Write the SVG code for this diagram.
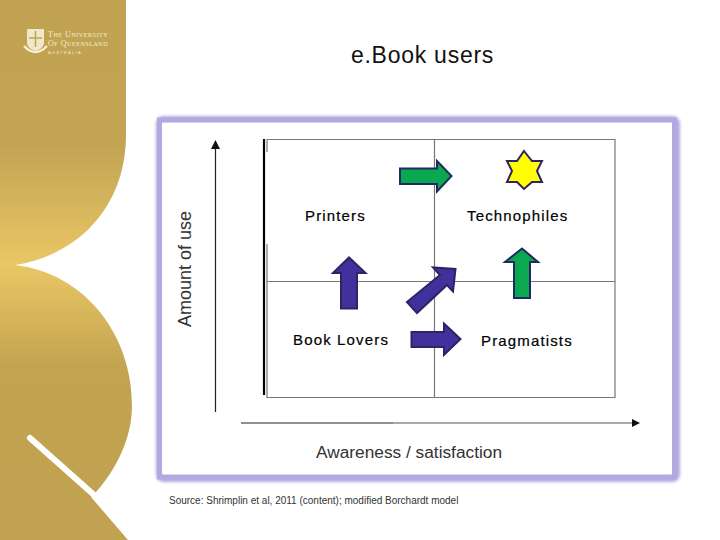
<svg xmlns="http://www.w3.org/2000/svg" width="720" height="540" viewBox="0 0 720 540">
<style>
text{font-family:"Liberation Sans",Arial,sans-serif}
.lab{font-size:15px;fill:#000;letter-spacing:1.15px;stroke:#000;stroke-width:.2}
.axis{fill:#333}
.grid{stroke:#777;stroke-width:1.2;fill:none}
.ax{stroke:#222;stroke-width:1.2;fill:none}
.p{fill:#41319c;stroke:#2c2464;stroke-width:2}
.g{fill:#0aa850;stroke:#1f2a60;stroke-width:2}
.logo{fill:#f4efd8}
.ser{font-family:"Liberation Serif",serif;fill:#f4efd8;font-variant:small-caps;font-size:8px;letter-spacing:.55px}
</style>
<defs>
<linearGradient id="gold" x1="0" y1="0" x2="0" y2="1">
<stop offset="0" stop-color="#c0a250"/><stop offset=".27" stop-color="#c2a453"/><stop offset=".49" stop-color="#eac765"/><stop offset=".68" stop-color="#c2a350"/><stop offset="1" stop-color="#c0a250"/>
</linearGradient>
<filter id="blur" x="-5%" y="-5%" width="110%" height="110%"><feGaussianBlur stdDeviation="1.6"/></filter>
</defs>
<rect width="720" height="540" fill="#fff"/>
<path id="panel" fill="url(#gold)" d="M0 0H126V135C126 205 80 255 15 265C85 273 132 335 132 405C132 440 115 470 97 491L91 497L128 540H0Z"/>
<path id="stripe" d="M30 438L93 494" fill="none" stroke="#fff" stroke-width="6" stroke-linecap="round"/>
<g id="logo">
<path class="logo" d="M27 29H44V43Q44 48 35.500 51Q27 48 27 43Z" opacity=".9"/>
<path d="M35.500 31V47M29 38H42" stroke="#c0a250" stroke-width="1.500" fill="none"/>
<path d="M24 46Q35.500 58 47 46" fill="none" stroke="#f4efd8" stroke-width="2.500"/>
<text class="ser" x="48" y="37">The University</text>
<text class="ser" x="48" y="46">Of Queensland</text>
<text x="48" y="53.500" font-size="4" letter-spacing="1.300" fill="#f4efd8">AUSTRALIA</text>
</g>
<text id="title" x="422.500" y="63" text-anchor="middle" font-size="23" letter-spacing=".75" fill="#111">e.Book users</text>
<g id="frame">
<rect x="158.500" y="118.500" width="519" height="361" rx="5" fill="none" stroke="#b3a8e0" stroke-width="5" filter="url(#blur)"/>
<rect x="159.500" y="120" width="515" height="357" fill="none" stroke="#b3a8e0" stroke-width="5"/>
<rect x="162" y="123" width="510" height="350" fill="#fff"/>
</g>
<g id="connectors">
<path class="grid" d="M267 152V139.500H615V397.500H267V244M267 281.500H615M434.500 140V397"/>
<path d="M264 139V395" stroke="#000" stroke-width="2.200" fill="none"/>
<path class="ax" d="M215.500 148V412"/>
<path d="M215.500 140L211 149H220Z" fill="#111"/>
<path class="ax" d="M241 423H393"/>
<path d="M393 423H633" stroke="#555" stroke-width="1.200" fill="none"/>
<path d="M640 423L632 419V427Z" fill="#111"/>
</g>
<g id="arrow-top"><path class="g" d="M400 168.500H437V161L451.500 176L437 191.500V184H400Z"/></g>
<g id="star"><path d="M524 151L532 161H542L537 171L542 182H532L524 189L517 182H507L512 171L507 161H517Z" fill="#ff0" stroke="#2c2464" stroke-width="2"/></g>
<g id="arrow-up-purple"><path class="p" d="M341 308.500V273H333L349 257.500L365.500 273H357V308.500Z"/></g>
<g id="arrow-diag"><path class="p" d="M407 302L440 275L433 267.500L455.500 269L453 291.500L447 285L417 313Z"/></g>
<g id="arrow-up-green"><path class="g" d="M514 298V262H505L522 248.500L538 262H530V298Z"/></g>
<g id="arrow-right-purple"><path class="p" d="M411.500 332H444V323.500L460.500 339L444 355V347H411.500Z"/></g>
<g id="labels">
<text class="lab" x="305" y="221">Printers</text>
<text class="lab" x="467" y="221">Technophiles</text>
<text class="lab" x="293" y="345">Book Lovers</text>
<text class="lab" x="481" y="346">Pragmatists</text>
</g>
<text class="axis" transform="translate(191 327) rotate(-90)" font-size="18">Amount of use</text>
<text class="axis" x="316" y="458" font-size="17.300">Awareness / satisfaction</text>
<text id="source" x="169" y="504" font-size="10" fill="#333">Source: Shrimplin et al, 2011 (content); modified Borchardt model</text>
</svg>
